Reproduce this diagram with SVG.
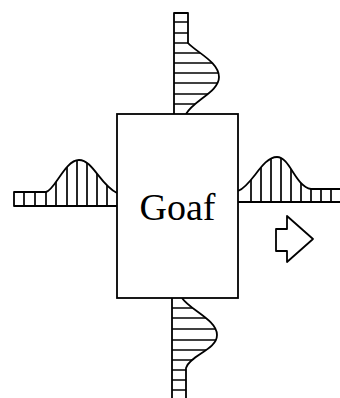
<svg xmlns="http://www.w3.org/2000/svg" width="340" height="398" viewBox="0 0 340 398">
<style>
.s{fill:none;stroke:#000;stroke-width:1.8;stroke-linejoin:round}
.h{stroke:#000;stroke-width:1.7}
</style>
<defs>
<clipPath id="cT"><path d="M174,13 H188 V43 C196,52 219,62 219,77 C219,92 194,100 186,114 H174 Z"/></clipPath>
<clipPath id="cB"><path d="M172,298 H182 C190,310 217,320 217,335 C217,350 190,355 186,368 V398 H172 Z"/></clipPath>
<clipPath id="cL"><path d="M14,206 V192 H46 C55,190 65,160 79,160 C93,160 100,185 117,193 V206 Z"/></clipPath>
<clipPath id="cR"><path d="M238,202 V191 C252,186 262,157 277,157 C290,157 295,186 311,189 H340 V202 Z"/></clipPath>
</defs>
<g id="profile-top">
<path class="s" d="M174,114 V13 H188 V43 C196,52 219,62 219,77 C219,92 194,100 186,114"/>
<g clip-path="url(#cT)" class="h">
<line x1="170" x2="230" y1="22" y2="22"/><line x1="170" x2="230" y1="33" y2="33"/><line x1="170" x2="230" y1="43" y2="43"/><line x1="170" x2="230" y1="53" y2="53"/><line x1="170" x2="230" y1="63" y2="63"/><line x1="170" x2="230" y1="73" y2="73"/><line x1="170" x2="230" y1="83" y2="83"/><line x1="170" x2="230" y1="94" y2="94"/><line x1="170" x2="230" y1="104" y2="104"/>
</g>
</g>
<g id="profile-bottom">
<path class="s" d="M172,298 V398 M182,298 C190,310 217,320 217,335 C217,350 190,355 186,368 V398"/>
<g clip-path="url(#cB)" class="h">
<line x1="165" x2="225" y1="308" y2="308"/><line x1="165" x2="225" y1="318" y2="318"/><line x1="165" x2="225" y1="329" y2="329"/><line x1="165" x2="225" y1="340" y2="340"/><line x1="165" x2="225" y1="350" y2="350"/><line x1="165" x2="225" y1="360" y2="360"/><line x1="165" x2="225" y1="370" y2="370"/><line x1="165" x2="225" y1="380" y2="380"/><line x1="165" x2="225" y1="390" y2="390"/>
</g>
</g>
<g id="profile-left">
<path class="s" d="M117,206 H14 V192 H46 C55,190 65,160 79,160 C93,160 100,185 117,193"/>
<g clip-path="url(#cL)" class="h">
<line x1="24" x2="24" y1="150" y2="210"/><line x1="35" x2="35" y1="150" y2="210"/><line x1="46" x2="46" y1="150" y2="210"/><line x1="56" x2="56" y1="150" y2="210"/><line x1="67" x2="67" y1="150" y2="210"/><line x1="77" x2="77" y1="150" y2="210"/><line x1="87" x2="87" y1="150" y2="210"/><line x1="97" x2="97" y1="150" y2="210"/><line x1="107" x2="107" y1="150" y2="210"/>
</g>
</g>
<g id="profile-right">
<path class="s" d="M238,202 H340 M238,191 C252,186 262,157 277,157 C290,157 295,186 311,189 H340"/>
<g clip-path="url(#cR)" class="h">
<line x1="251" x2="251" y1="150" y2="206"/><line x1="261" x2="261" y1="150" y2="206"/><line x1="271" x2="271" y1="150" y2="206"/><line x1="281" x2="281" y1="150" y2="206"/><line x1="291" x2="291" y1="150" y2="206"/><line x1="301" x2="301" y1="150" y2="206"/><line x1="311" x2="311" y1="150" y2="206"/><line x1="321" x2="321" y1="150" y2="206"/><line x1="331" x2="331" y1="150" y2="206"/>
</g>
</g>
<g id="goaf">
<rect x="117" y="114" width="121" height="184" fill="#fff" stroke="#000" stroke-width="1.8"/>
<text x="177.5" y="220" font-family="Liberation Serif, Times New Roman, serif" font-size="38" text-anchor="middle" fill="#000">Goaf</text>
</g>
<g id="arrow">
<path class="s" d="M276,229 H287 V216 L313,239 L287,262 V251 H276 Z"/>
</g>
</svg>
